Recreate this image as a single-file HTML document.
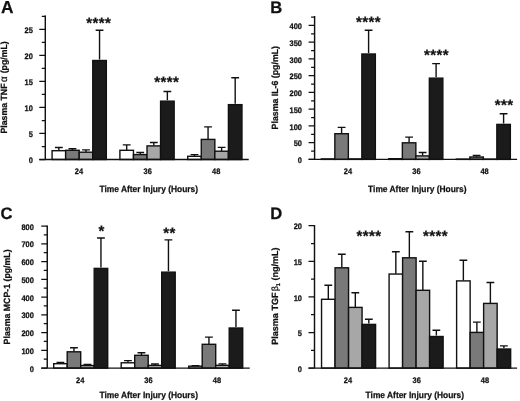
<!DOCTYPE html>
<html><head><meta charset="utf-8"><title>Figure</title>
<style>html,body{margin:0;padding:0;background:#fff;}svg{display:block;will-change:transform;filter:grayscale(1);}text{text-rendering:geometricPrecision;font-family:"Liberation Sans",sans-serif;font-weight:bold;fill:#111;stroke:#111;stroke-width:0.25px;}</style>
</head><body>
<svg width="520" height="401" viewBox="0 0 520 401">
<rect x="0" y="0" width="520" height="401" fill="#fff"/>
<g id="panelA">
<path d="M58.86 150.40V147.50M54.96 147.50H62.76" stroke="#111" stroke-width="1.4" fill="none"/>
<rect x="52.08" y="150.70" width="13.56" height="8.80" fill="#ffffff" stroke="#111" stroke-width="1.4"/>
<path d="M72.43 150.00V148.75M68.53 148.75H76.33" stroke="#111" stroke-width="1.4" fill="none"/>
<rect x="65.64" y="150.30" width="13.56" height="9.20" fill="#797979" stroke="#111" stroke-width="1.4"/>
<path d="M85.99 151.90V149.85M82.09 149.85H89.89" stroke="#111" stroke-width="1.4" fill="none"/>
<rect x="79.21" y="152.20" width="13.56" height="7.30" fill="#a7a7a7" stroke="#111" stroke-width="1.4"/>
<path d="M99.55 59.60V30.25M95.65 30.25H103.45" stroke="#111" stroke-width="1.4" fill="none"/>
<rect x="92.77" y="60.50" width="13.56" height="99.00" fill="#1b1b1b" stroke="#111" stroke-width="1.4"/>
<path d="M126.68 150.00V144.85M122.78 144.85H130.58" stroke="#111" stroke-width="1.4" fill="none"/>
<rect x="119.90" y="150.30" width="13.56" height="9.20" fill="#ffffff" stroke="#111" stroke-width="1.4"/>
<path d="M140.24 154.30V152.50M136.34 152.50H144.14" stroke="#111" stroke-width="1.4" fill="none"/>
<rect x="133.46" y="154.60" width="13.56" height="4.90" fill="#797979" stroke="#111" stroke-width="1.4"/>
<path d="M153.81 145.60V142.50M149.91 142.50H157.71" stroke="#111" stroke-width="1.4" fill="none"/>
<rect x="147.02" y="145.90" width="13.56" height="13.60" fill="#a7a7a7" stroke="#111" stroke-width="1.4"/>
<path d="M167.37 100.25V91.50M163.47 91.50H171.27" stroke="#111" stroke-width="1.4" fill="none"/>
<rect x="160.59" y="101.15" width="13.56" height="58.35" fill="#1b1b1b" stroke="#111" stroke-width="1.4"/>
<path d="M194.50 156.00V154.65M190.60 154.65H198.40" stroke="#111" stroke-width="1.4" fill="none"/>
<rect x="187.72" y="156.30" width="13.56" height="3.20" fill="#ffffff" stroke="#111" stroke-width="1.4"/>
<path d="M208.06 139.10V126.85M204.16 126.85H211.96" stroke="#111" stroke-width="1.4" fill="none"/>
<rect x="201.28" y="139.40" width="13.56" height="20.10" fill="#797979" stroke="#111" stroke-width="1.4"/>
<path d="M221.62 150.90V147.35M217.72 147.35H225.52" stroke="#111" stroke-width="1.4" fill="none"/>
<rect x="214.84" y="151.20" width="13.56" height="8.30" fill="#a7a7a7" stroke="#111" stroke-width="1.4"/>
<path d="M235.19 103.75V77.75M231.29 77.75H239.09" stroke="#111" stroke-width="1.4" fill="none"/>
<rect x="228.41" y="104.65" width="13.56" height="54.85" fill="#1b1b1b" stroke="#111" stroke-width="1.4"/>
<path d="M45.30 15.40V159.50" stroke="#111" stroke-width="1.45" fill="none"/>
<path d="M39.30 159.50H248.75" stroke="#111" stroke-width="1.4" fill="none"/>
<path d="M39.30 159.50H45.30M39.30 133.48H45.30M39.30 107.46H45.30M39.30 81.44H45.30M39.30 55.42H45.30M39.30 29.40H45.30M41.80 146.50H45.30M41.80 120.50H45.30M41.80 94.45H45.30M41.80 68.40H45.30M41.80 42.40H45.30M41.80 16.40H45.30" stroke="#111" stroke-width="1.25" fill="none"/>
<text x="28.70" y="163.10" font-size="8.1" textLength="4.15" lengthAdjust="spacingAndGlyphs">0</text>
<text x="28.70" y="137.08" font-size="8.1" textLength="4.15" lengthAdjust="spacingAndGlyphs">5</text>
<text x="24.55" y="111.06" font-size="8.1" textLength="8.30" lengthAdjust="spacingAndGlyphs">10</text>
<text x="24.55" y="85.04" font-size="8.1" textLength="8.30" lengthAdjust="spacingAndGlyphs">15</text>
<text x="24.55" y="59.02" font-size="8.1" textLength="8.30" lengthAdjust="spacingAndGlyphs">20</text>
<text x="24.55" y="33.00" font-size="8.1" textLength="8.30" lengthAdjust="spacingAndGlyphs">25</text>
<text x="74.75" y="173.75" font-size="8.1" textLength="8.30" lengthAdjust="spacingAndGlyphs">24</text>
<text x="143.55" y="173.75" font-size="8.1" textLength="8.30" lengthAdjust="spacingAndGlyphs">36</text>
<text x="212.10" y="173.75" font-size="8.1" textLength="8.30" lengthAdjust="spacingAndGlyphs">48</text>
<text x="99.40" y="192.25" font-size="9.0" textLength="98.70" lengthAdjust="spacingAndGlyphs">Time After Injury (Hours)</text>
<text transform="translate(7.25 133.53) rotate(-90)" font-size="9.0" textLength="92.25" lengthAdjust="spacingAndGlyphs">Plasma TNF<tspan font-weight="normal" font-size="10" dx="1.6">α</tspan><tspan dx="0.6"> (pg/mL)</tspan></text>
<text x="98.80" y="27.85" font-size="15" text-anchor="middle" letter-spacing="0.4" stroke="none">****</text>
<text x="166.80" y="86.95" font-size="15" text-anchor="middle" letter-spacing="0.4" stroke="none">****</text>
<text x="1.00" y="13.40" font-size="17.3">A</text>
</g>
<g id="panelB">
<rect x="321.35" y="158.90" width="13.50" height="0.50" fill="#ffffff" stroke="#111" stroke-width="1.4"/>
<path d="M341.60 133.40V127.35M337.70 127.35H345.50" stroke="#111" stroke-width="1.4" fill="none"/>
<rect x="334.85" y="133.70" width="13.50" height="25.70" fill="#797979" stroke="#111" stroke-width="1.4"/>
<rect x="348.35" y="158.90" width="13.50" height="0.50" fill="#a7a7a7" stroke="#111" stroke-width="1.4"/>
<path d="M368.60 53.10V30.25M364.70 30.25H372.50" stroke="#111" stroke-width="1.4" fill="none"/>
<rect x="361.85" y="54.00" width="13.50" height="105.40" fill="#1b1b1b" stroke="#111" stroke-width="1.4"/>
<rect x="388.85" y="158.70" width="13.50" height="0.70" fill="#ffffff" stroke="#111" stroke-width="1.4"/>
<path d="M409.10 142.50V137.15M405.20 137.15H413.00" stroke="#111" stroke-width="1.4" fill="none"/>
<rect x="402.35" y="142.80" width="13.50" height="16.60" fill="#797979" stroke="#111" stroke-width="1.4"/>
<path d="M422.60 155.60V152.50M418.70 152.50H426.50" stroke="#111" stroke-width="1.4" fill="none"/>
<rect x="415.85" y="155.90" width="13.50" height="3.50" fill="#a7a7a7" stroke="#111" stroke-width="1.4"/>
<path d="M436.10 77.25V63.65M432.20 63.65H440.00" stroke="#111" stroke-width="1.4" fill="none"/>
<rect x="429.35" y="78.15" width="13.50" height="81.25" fill="#1b1b1b" stroke="#111" stroke-width="1.4"/>
<rect x="456.35" y="159.10" width="13.50" height="0.30" fill="#ffffff" stroke="#111" stroke-width="1.4"/>
<path d="M476.60 156.70V155.50M472.70 155.50H480.50" stroke="#111" stroke-width="1.4" fill="none"/>
<rect x="469.85" y="157.00" width="13.50" height="2.40" fill="#797979" stroke="#111" stroke-width="1.4"/>
<rect x="483.35" y="159.10" width="13.50" height="0.30" fill="#a7a7a7" stroke="#111" stroke-width="1.4"/>
<path d="M503.60 123.50V113.75M499.70 113.75H507.50" stroke="#111" stroke-width="1.4" fill="none"/>
<rect x="496.85" y="124.40" width="13.50" height="35.00" fill="#1b1b1b" stroke="#111" stroke-width="1.4"/>
<path d="M314.60 16.00V159.40" stroke="#111" stroke-width="1.45" fill="none"/>
<path d="M308.60 159.40H517.10" stroke="#111" stroke-width="1.4" fill="none"/>
<path d="M308.60 159.40H314.60M308.60 142.66H314.60M308.60 125.92H314.60M308.60 109.18H314.60M308.60 92.44H314.60M308.60 75.70H314.60M308.60 58.96H314.60M308.60 42.22H314.60M308.60 25.48H314.60M311.10 151.03H314.60M311.10 134.29H314.60M311.10 117.55H314.60M311.10 100.81H314.60M311.10 84.07H314.60M311.10 67.33H314.60M311.10 50.59H314.60M311.10 33.85H314.60M311.10 17.11H314.60" stroke="#111" stroke-width="1.25" fill="none"/>
<text x="297.85" y="163.00" font-size="8.1" textLength="4.15" lengthAdjust="spacingAndGlyphs">0</text>
<text x="293.70" y="146.26" font-size="8.1" textLength="8.30" lengthAdjust="spacingAndGlyphs">50</text>
<text x="289.55" y="129.52" font-size="8.1" textLength="12.45" lengthAdjust="spacingAndGlyphs">100</text>
<text x="289.55" y="112.78" font-size="8.1" textLength="12.45" lengthAdjust="spacingAndGlyphs">150</text>
<text x="289.55" y="96.04" font-size="8.1" textLength="12.45" lengthAdjust="spacingAndGlyphs">200</text>
<text x="289.55" y="79.30" font-size="8.1" textLength="12.45" lengthAdjust="spacingAndGlyphs">250</text>
<text x="289.55" y="62.56" font-size="8.1" textLength="12.45" lengthAdjust="spacingAndGlyphs">300</text>
<text x="289.55" y="45.82" font-size="8.1" textLength="12.45" lengthAdjust="spacingAndGlyphs">350</text>
<text x="289.55" y="29.08" font-size="8.1" textLength="12.45" lengthAdjust="spacingAndGlyphs">400</text>
<text x="343.75" y="173.75" font-size="8.1" textLength="8.30" lengthAdjust="spacingAndGlyphs">24</text>
<text x="412.25" y="173.75" font-size="8.1" textLength="8.30" lengthAdjust="spacingAndGlyphs">36</text>
<text x="480.45" y="173.75" font-size="8.1" textLength="8.30" lengthAdjust="spacingAndGlyphs">48</text>
<text x="368.10" y="192.25" font-size="9.0" textLength="98.40" lengthAdjust="spacingAndGlyphs">Time After Injury (Hours)</text>
<text transform="translate(277.60 129.40) rotate(-90)" font-size="9.0" textLength="83.40" lengthAdjust="spacingAndGlyphs">Plasma IL-6 (pg/mL)</text>
<text x="368.60" y="26.60" font-size="15" text-anchor="middle" letter-spacing="0.4" stroke="none">****</text>
<text x="436.45" y="60.15" font-size="15" text-anchor="middle" letter-spacing="0.4" stroke="none">****</text>
<text x="504.10" y="109.55" font-size="15" text-anchor="middle" letter-spacing="0.4" stroke="none">***</text>
<text x="270.20" y="13.20" font-size="16.6">B</text>
</g>
<g id="panelC">
<path d="M60.45 363.40V362.50M56.55 362.50H64.35" stroke="#111" stroke-width="1.4" fill="none"/>
<rect x="53.70" y="363.70" width="13.50" height="4.40" fill="#ffffff" stroke="#111" stroke-width="1.4"/>
<path d="M73.95 351.50V347.75M70.05 347.75H77.85" stroke="#111" stroke-width="1.4" fill="none"/>
<rect x="67.20" y="351.80" width="13.50" height="16.30" fill="#797979" stroke="#111" stroke-width="1.4"/>
<path d="M87.45 365.20V364.35M83.55 364.35H91.35" stroke="#111" stroke-width="1.4" fill="none"/>
<rect x="80.70" y="365.50" width="13.50" height="2.60" fill="#a7a7a7" stroke="#111" stroke-width="1.4"/>
<path d="M100.95 267.50V238.00M97.05 238.00H104.85" stroke="#111" stroke-width="1.4" fill="none"/>
<rect x="94.20" y="268.40" width="13.50" height="99.70" fill="#1b1b1b" stroke="#111" stroke-width="1.4"/>
<path d="M127.95 362.50V360.65M124.05 360.65H131.85" stroke="#111" stroke-width="1.4" fill="none"/>
<rect x="121.20" y="362.80" width="13.50" height="5.30" fill="#ffffff" stroke="#111" stroke-width="1.4"/>
<path d="M141.45 355.00V352.75M137.55 352.75H145.35" stroke="#111" stroke-width="1.4" fill="none"/>
<rect x="134.70" y="355.30" width="13.50" height="12.80" fill="#797979" stroke="#111" stroke-width="1.4"/>
<path d="M154.95 365.10V364.05M151.05 364.05H158.85" stroke="#111" stroke-width="1.4" fill="none"/>
<rect x="148.20" y="365.40" width="13.50" height="2.70" fill="#a7a7a7" stroke="#111" stroke-width="1.4"/>
<path d="M168.45 271.25V239.85M164.55 239.85H172.35" stroke="#111" stroke-width="1.4" fill="none"/>
<rect x="161.70" y="272.15" width="13.50" height="95.95" fill="#1b1b1b" stroke="#111" stroke-width="1.4"/>
<path d="M195.45 365.90V365.65M191.55 365.65H199.35" stroke="#111" stroke-width="1.4" fill="none"/>
<rect x="188.70" y="366.20" width="13.50" height="1.90" fill="#ffffff" stroke="#111" stroke-width="1.4"/>
<path d="M208.95 344.00V337.15M205.05 337.15H212.85" stroke="#111" stroke-width="1.4" fill="none"/>
<rect x="202.20" y="344.30" width="13.50" height="23.80" fill="#797979" stroke="#111" stroke-width="1.4"/>
<path d="M222.45 365.00V363.85M218.55 363.85H226.35" stroke="#111" stroke-width="1.4" fill="none"/>
<rect x="215.70" y="365.30" width="13.50" height="2.80" fill="#a7a7a7" stroke="#111" stroke-width="1.4"/>
<path d="M235.95 327.10V310.25M232.05 310.25H239.85" stroke="#111" stroke-width="1.4" fill="none"/>
<rect x="229.20" y="328.00" width="13.50" height="40.10" fill="#1b1b1b" stroke="#111" stroke-width="1.4"/>
<path d="M47.25 225.40V368.10" stroke="#111" stroke-width="1.45" fill="none"/>
<path d="M41.25 368.10H249.75" stroke="#111" stroke-width="1.4" fill="none"/>
<path d="M41.25 368.10H47.25M41.25 350.34H47.25M41.25 332.58H47.25M41.25 314.82H47.25M41.25 297.06H47.25M41.25 279.30H47.25M41.25 261.54H47.25M41.25 243.78H47.25M41.25 226.02H47.25M43.75 359.22H47.25M43.75 341.46H47.25M43.75 323.70H47.25M43.75 305.94H47.25M43.75 288.18H47.25M43.75 270.42H47.25M43.75 252.66H47.25M43.75 234.90H47.25" stroke="#111" stroke-width="1.25" fill="none"/>
<text x="29.70" y="371.70" font-size="8.1" textLength="4.15" lengthAdjust="spacingAndGlyphs">0</text>
<text x="21.40" y="353.94" font-size="8.1" textLength="12.45" lengthAdjust="spacingAndGlyphs">100</text>
<text x="21.40" y="336.18" font-size="8.1" textLength="12.45" lengthAdjust="spacingAndGlyphs">200</text>
<text x="21.40" y="318.42" font-size="8.1" textLength="12.45" lengthAdjust="spacingAndGlyphs">300</text>
<text x="21.40" y="300.66" font-size="8.1" textLength="12.45" lengthAdjust="spacingAndGlyphs">400</text>
<text x="21.40" y="282.90" font-size="8.1" textLength="12.45" lengthAdjust="spacingAndGlyphs">500</text>
<text x="21.40" y="265.14" font-size="8.1" textLength="12.45" lengthAdjust="spacingAndGlyphs">600</text>
<text x="21.40" y="247.38" font-size="8.1" textLength="12.45" lengthAdjust="spacingAndGlyphs">700</text>
<text x="21.40" y="229.62" font-size="8.1" textLength="12.45" lengthAdjust="spacingAndGlyphs">800</text>
<text x="76.05" y="382.50" font-size="8.1" textLength="8.30" lengthAdjust="spacingAndGlyphs">24</text>
<text x="144.25" y="382.50" font-size="8.1" textLength="8.30" lengthAdjust="spacingAndGlyphs">36</text>
<text x="212.85" y="382.50" font-size="8.1" textLength="8.30" lengthAdjust="spacingAndGlyphs">48</text>
<text x="99.40" y="398.00" font-size="9.0" textLength="98.70" lengthAdjust="spacingAndGlyphs">Time After Injury (Hours)</text>
<text transform="translate(9.50 344.40) rotate(-90)" font-size="9.0" textLength="95.00" lengthAdjust="spacingAndGlyphs">Plasma MCP-1 (pg/mL)</text>
<text x="101.60" y="236.35" font-size="15" text-anchor="middle" letter-spacing="0.4" stroke="none">*</text>
<text x="169.60" y="237.65" font-size="15" text-anchor="middle" letter-spacing="0.4" stroke="none">**</text>
<text x="0.60" y="218.60" font-size="16.6">C</text>
</g>
<g id="panelD">
<path d="M328.31 299.00V285.25M324.41 285.25H332.21" stroke="#111" stroke-width="1.4" fill="none"/>
<rect x="321.55" y="299.30" width="13.51" height="68.80" fill="#ffffff" stroke="#111" stroke-width="1.4"/>
<path d="M341.81 267.50V254.25M337.91 254.25H345.71" stroke="#111" stroke-width="1.4" fill="none"/>
<rect x="335.06" y="267.80" width="13.51" height="100.30" fill="#797979" stroke="#111" stroke-width="1.4"/>
<path d="M355.32 307.10V292.75M351.42 292.75H359.22" stroke="#111" stroke-width="1.4" fill="none"/>
<rect x="348.57" y="307.40" width="13.51" height="60.70" fill="#a7a7a7" stroke="#111" stroke-width="1.4"/>
<path d="M368.83 323.50V319.25M364.93 319.25H372.73" stroke="#111" stroke-width="1.4" fill="none"/>
<rect x="362.07" y="324.40" width="13.51" height="43.70" fill="#1b1b1b" stroke="#111" stroke-width="1.4"/>
<path d="M395.84 273.75V251.75M391.94 251.75H399.74" stroke="#111" stroke-width="1.4" fill="none"/>
<rect x="389.09" y="274.05" width="13.51" height="94.05" fill="#ffffff" stroke="#111" stroke-width="1.4"/>
<path d="M409.35 257.50V231.75M405.45 231.75H413.25" stroke="#111" stroke-width="1.4" fill="none"/>
<rect x="402.59" y="257.80" width="13.51" height="110.30" fill="#797979" stroke="#111" stroke-width="1.4"/>
<path d="M422.85 290.00V261.25M418.95 261.25H426.75" stroke="#111" stroke-width="1.4" fill="none"/>
<rect x="416.10" y="290.30" width="13.51" height="77.80" fill="#a7a7a7" stroke="#111" stroke-width="1.4"/>
<path d="M436.36 335.60V330.25M432.46 330.25H440.26" stroke="#111" stroke-width="1.4" fill="none"/>
<rect x="429.61" y="336.50" width="13.51" height="31.60" fill="#1b1b1b" stroke="#111" stroke-width="1.4"/>
<path d="M463.37 280.60V260.25M459.47 260.25H467.27" stroke="#111" stroke-width="1.4" fill="none"/>
<rect x="456.62" y="280.90" width="13.51" height="87.20" fill="#ffffff" stroke="#111" stroke-width="1.4"/>
<path d="M476.88 332.10V322.15M472.98 322.15H480.78" stroke="#111" stroke-width="1.4" fill="none"/>
<rect x="470.13" y="332.40" width="13.51" height="35.70" fill="#797979" stroke="#111" stroke-width="1.4"/>
<path d="M490.39 303.10V282.50M486.49 282.50H494.29" stroke="#111" stroke-width="1.4" fill="none"/>
<rect x="483.63" y="303.40" width="13.51" height="64.70" fill="#a7a7a7" stroke="#111" stroke-width="1.4"/>
<path d="M503.89 348.10V345.85M499.99 345.85H507.79" stroke="#111" stroke-width="1.4" fill="none"/>
<rect x="497.14" y="349.00" width="13.51" height="19.10" fill="#1b1b1b" stroke="#111" stroke-width="1.4"/>
<path d="M314.50 225.10V368.10" stroke="#111" stroke-width="1.45" fill="none"/>
<path d="M308.50 368.10H517.10" stroke="#111" stroke-width="1.4" fill="none"/>
<path d="M308.50 368.10H314.50M308.50 332.50H314.50M308.50 296.90H314.50M308.50 261.30H314.50M308.50 225.70H314.50M311.00 350.30H314.50M311.00 314.70H314.50M311.00 279.10H314.50M311.00 243.50H314.50" stroke="#111" stroke-width="1.25" fill="none"/>
<text x="297.85" y="371.70" font-size="8.1" textLength="4.15" lengthAdjust="spacingAndGlyphs">0</text>
<text x="297.85" y="336.10" font-size="8.1" textLength="4.15" lengthAdjust="spacingAndGlyphs">5</text>
<text x="293.70" y="300.50" font-size="8.1" textLength="8.30" lengthAdjust="spacingAndGlyphs">10</text>
<text x="293.70" y="264.90" font-size="8.1" textLength="8.30" lengthAdjust="spacingAndGlyphs">15</text>
<text x="293.70" y="229.30" font-size="8.1" textLength="8.30" lengthAdjust="spacingAndGlyphs">20</text>
<text x="343.75" y="382.50" font-size="8.1" textLength="8.30" lengthAdjust="spacingAndGlyphs">24</text>
<text x="412.60" y="382.50" font-size="8.1" textLength="8.30" lengthAdjust="spacingAndGlyphs">36</text>
<text x="480.85" y="382.50" font-size="8.1" textLength="8.30" lengthAdjust="spacingAndGlyphs">48</text>
<text x="365.60" y="398.00" font-size="9.0" textLength="98.40" lengthAdjust="spacingAndGlyphs">Time After Injury (Hours)</text>
<text transform="translate(277.90 344.73) rotate(-90)" font-size="9.0" textLength="97.25" lengthAdjust="spacingAndGlyphs">Plasma TGF<tspan font-weight="normal" dx="1.2">β</tspan><tspan font-size="5.5" dy="1.6">1</tspan><tspan dy="-1.6"> (ng/mL)</tspan></text>
<text x="368.95" y="240.75" font-size="15" text-anchor="middle" letter-spacing="0.4" stroke="none">****</text>
<text x="435.60" y="240.75" font-size="15" text-anchor="middle" letter-spacing="0.4" stroke="none">****</text>
<text x="270.20" y="218.50" font-size="16.6">D</text>
</g>
</svg>
</body></html>
